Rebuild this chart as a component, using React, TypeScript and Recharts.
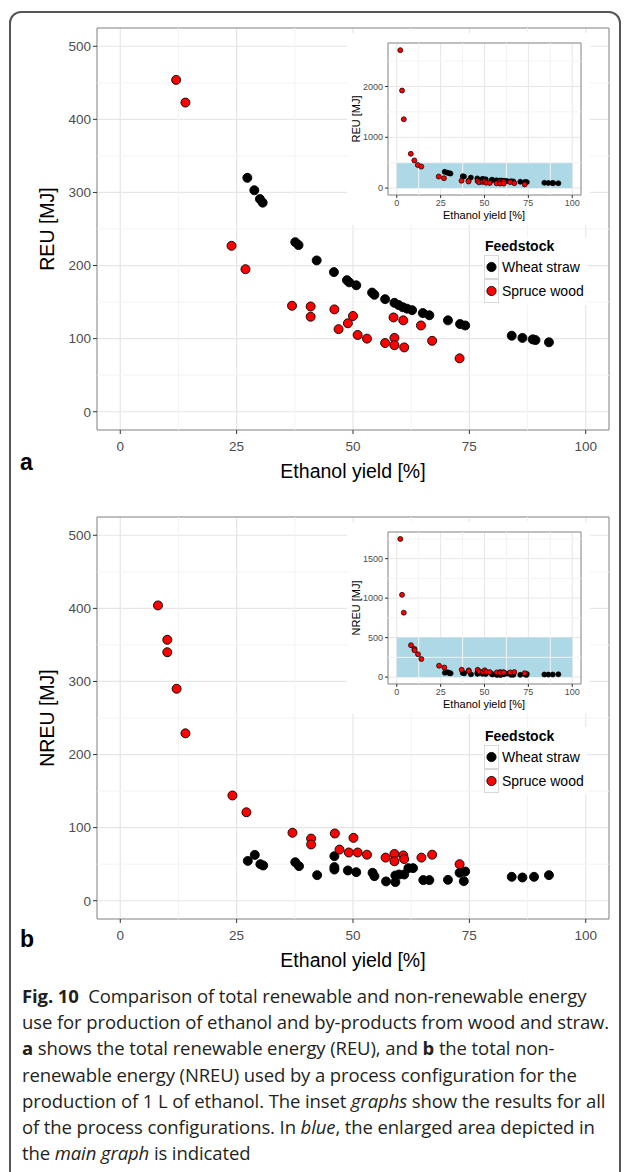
import {
  ScatterChart,
  Scatter,
  XAxis,
  YAxis,
  CartesianGrid,
  ReferenceLine,
  ReferenceArea,
} from "recharts";

// panel a: renewable energy use (REU)
const wheatYieldA = [27.3, 28.8, 30.0, 30.6, 37.6, 38.3, 42.2, 45.9, 48.7, 49.2, 50.7, 54.1, 54.6, 56.9, 58.9, 59.8, 60.7, 61.6, 62.7, 65.0, 66.4, 70.4, 73.0, 74.1, 84.1, 86.4, 88.6, 89.2, 92.1];
const wheatReu = [320, 303, 291, 286, 232, 228, 207, 191, 180, 177, 173, 163, 160, 154, 149, 146, 143, 141, 139, 135, 132, 125, 120, 118, 104, 101, 99, 98, 95];
const spruceYieldA = [2, 3, 4, 8, 10, 12, 14, 23.9, 26.9, 36.9, 40.9, 40.9, 46.0, 46.9, 48.9, 50.0, 51.0, 53.0, 56.9, 58.7, 58.9, 58.9, 60.8, 61.0, 64.6, 67.0, 72.9];
const spruceReu = [2715, 1920, 1355, 675, 545, 454, 423, 227, 195, 145, 144, 130, 140, 113, 121, 131, 105, 100, 94, 129, 101, 91, 125, 88, 118, 97, 73];

// panel b: non-renewable energy use (NREU)
const wheatYieldB = [27.4, 28.9, 30.1, 30.7, 37.6, 38.4, 42.3, 46.0, 46.0, 46.0, 48.9, 50.7, 54.2, 54.6, 57.1, 59.1, 59.1, 59.9, 61.0, 61.9, 62.9, 65.1, 66.4, 70.4, 72.9, 74.1, 73.8, 84.1, 86.4, 88.9, 92.1];
const wheatNreu = [54.5, 62.7, 50, 48.2, 52.7, 47.3, 35, 61, 46, 42.7, 41.4, 39.1, 38.2, 33.6, 26.4, 34.5, 25.5, 35.9, 35.9, 44.6, 44.6, 28.2, 28.2, 28.6, 38.2, 40, 26.8, 32.7, 31.8, 32.7, 35];
const spruceYieldB = [2, 3, 4, 8.1, 10.1, 10.1, 12.1, 14.0, 24.1, 27.1, 37.0, 41.0, 41.0, 46.1, 47.1, 49.1, 50.1, 51.0, 53.0, 57.0, 58.9, 58.9, 60.8, 61.0, 64.7, 67.0, 72.9];
const spruceNreu = [1750, 1042, 816, 404, 357, 340, 290, 229, 144, 121, 93, 85, 77, 92, 70, 66, 86, 66, 63, 59, 64, 54, 62, 57, 59, 63, 50];

const xTicks = [0, 25, 50, 75, 100];
const xMinor = [12.5, 37.5, 62.5, 87.5];
const mainYTicks = [0, 100, 200, 300, 400, 500];
const mainYMinor = [50, 150, 250, 350, 450];
const insetYTicksA = [0, 1000, 2000];
const insetYMinorA = [500, 1500, 2500];
const insetYTicksB = [0, 500, 1000, 1500];
const insetYMinorB = [250, 750, 1250, 1750];

const FONT = "'Liberation Sans', Arial, Helvetica, sans-serif";
const RED = "#ff0000";

type Pt = { x: number; y: number };
const zip = (xs: number[], ys: number[]): Pt[] => xs.map((x, i) => ({ x, y: ys[i] }));

const dot = (r: number, fill: string, sw: number) => (p: any) =>
  <circle cx={p.cx} cy={p.cy} r={r} fill={fill} stroke="#000" strokeWidth={sw} />;

function MainChart({ wheat, spruce, top, yTitle }: { wheat: Pt[]; spruce: Pt[]; top: number; yTitle: string }) {
  const inRange = (p: Pt) => p.y <= 525;
  return (
    <div style={{ position: "absolute", left: 0, top, width: 627, height: 480 }}>
      <ScatterChart width={627} height={480} margin={{ top: 28, right: 18, bottom: 20, left: 0 }}>
        <CartesianGrid stroke="#e6e6e6" strokeWidth={1.2} />
        {xMinor.map((v) => <ReferenceLine key={"x" + v} x={v} stroke="#f3f3f3" />)}
        {mainYMinor.map((v) => <ReferenceLine key={"y" + v} y={v} stroke="#f3f3f3" />)}
        <ReferenceArea x1={-5} x2={105} y1={-25} y2={525} fill="none" stroke="#8c8c8c" strokeWidth={1} />
        <XAxis type="number" dataKey="x" domain={[-5, 105]} ticks={xTicks} allowDataOverflow
          axisLine={false} tickLine={{ stroke: "#333" }} tickSize={4} tickMargin={7} height={30}
          tick={{ fontSize: 13.5, fill: "#4d4d4d", fontFamily: FONT }} />
        <YAxis type="number" dataKey="y" domain={[-25, 525]} ticks={mainYTicks} allowDataOverflow
          axisLine={false} tickLine={{ stroke: "#333" }} tickSize={4} tickMargin={2} width={97}
          tick={{ fontSize: 13.5, fill: "#4d4d4d", fontFamily: FONT }} />
        <Scatter data={wheat.filter(inRange)} shape={dot(4.5, "#000", 0.9)} isAnimationActive={false} />
        <Scatter data={spruce.filter(inRange)} shape={dot(4.5, RED, 0.9)} isAnimationActive={false} />
      </ScatterChart>
      <div style={{ position: "absolute", left: 47, top: 229, transform: "translate(-50%,-50%) rotate(-90deg)", whiteSpace: "nowrap", fontFamily: FONT, fontSize: 19.5 }}>
        {yTitle}
      </div>
      <div style={{ position: "absolute", left: 353, top: 471, transform: "translate(-50%,-50%)", whiteSpace: "nowrap", fontFamily: FONT, fontSize: 19.5 }}>
        Ethanol yield [%]
      </div>
    </div>
  );
}

function Inset({ wheat, spruce, top, yDomain, yTicks, yMinor, yTitle }: {
  wheat: Pt[]; spruce: Pt[]; top: number; yDomain: [number, number]; yTicks: number[]; yMinor: number[]; yTitle: string;
}) {
  return (
    <div style={{ position: "absolute", left: 347, top, width: 243, height: 192, background: "#fff" }}>
      <ScatterChart width={243} height={192} margin={{ top: 10, right: 9, bottom: 0, left: 0 }}>
        <CartesianGrid stroke="#e6e6e6" />
        {xMinor.map((v) => <ReferenceLine key={"x" + v} x={v} stroke="#f3f3f3" />)}
        {yMinor.map((v) => <ReferenceLine key={"y" + v} y={v} stroke="#f3f3f3" />)}
        <ReferenceArea x1={0} x2={100} y1={0} y2={500} fill="#add8e6" fillOpacity={1} stroke="none" />
        <ReferenceArea x1={-5} x2={105} y1={yDomain[0]} y2={yDomain[1]} fill="none" stroke="#8c8c8c" />
        <XAxis type="number" dataKey="x" domain={[-5, 105]} ticks={xTicks} allowDataOverflow
          axisLine={false} tickLine={{ stroke: "#333" }} tickSize={3} tickMargin={2} height={30}
          tick={{ fontSize: 9, fill: "#4d4d4d", fontFamily: FONT }} />
        <YAxis type="number" dataKey="y" domain={yDomain} ticks={yTicks} allowDataOverflow
          axisLine={false} tickLine={{ stroke: "#333" }} tickSize={3} tickMargin={2} width={41}
          tick={{ fontSize: 9, fill: "#4d4d4d", fontFamily: FONT }} />
        <Scatter data={wheat} shape={dot(2.5, "#000", 0.7)} isAnimationActive={false} />
        <Scatter data={spruce} shape={dot(2.5, RED, 0.7)} isAnimationActive={false} />
      </ScatterChart>
      <div style={{ position: "absolute", left: 9, top: 86, transform: "translate(-50%,-50%) rotate(-90deg)", whiteSpace: "nowrap", fontFamily: FONT, fontSize: 11 }}>
        {yTitle}
      </div>
      <div style={{ position: "absolute", left: 137, top: 182, transform: "translate(-50%,-50%)", whiteSpace: "nowrap", fontFamily: FONT, fontSize: 11 }}>
        Ethanol yield [%]
      </div>
    </div>
  );
}

const legendItems: [string, string][] = [["Wheat straw", "#000"], ["Spruce wood", RED]];

function FeedLegend({ top }: { top: number }) {
  return (
    <div style={{ position: "absolute", left: 483, top, width: 104, height: 68, background: "#fff", fontFamily: FONT }}>
      <div style={{ position: "absolute", left: 2, top: 1, fontWeight: "bold", fontSize: 14 }}>Feedstock</div>
      {legendItems.map(([label, c], i) => (
        <div key={label} style={{ position: "absolute", left: 1, top: 18 + 24 * i, height: 24, display: "flex", alignItems: "center", whiteSpace: "nowrap" }}>
          <svg width={15} height={24} style={{ display: "block" }}>
            <rect x={0.5} y={0.5} width={14} height={23} fill="#fff" stroke="#d9d9d9" />
            <circle cx={7.5} cy={12} r={4.6} fill={c} stroke="#000" strokeWidth={0.9} />
          </svg>
          <span style={{ marginLeft: 3, fontSize: 14 }}>{label}</span>
        </div>
      ))}
    </div>
  );
}

const CAP = "'Open Sans', 'Noto Sans', sans-serif";

export default function App() {
  const wheatA = zip(wheatYieldA, wheatReu);
  const spruceA = zip(spruceYieldA, spruceReu);
  const wheatB = zip(wheatYieldB, wheatNreu);
  const spruceB = zip(spruceYieldB, spruceNreu);
  return (
    <div style={{ position: "absolute", left: 0, top: 0, width: 627, height: 1172, overflow: "hidden", background: "#fff" }}>
      <div style={{ position: "absolute", left: 9, top: 11, width: 612, height: 1220, border: "2px solid #555", borderRadius: 12, boxSizing: "border-box" }} />
      <MainChart wheat={wheatA} spruce={spruceA} top={0} yTitle="REU [MJ]" />
      <Inset wheat={wheatA} spruce={spruceA} top={33} yDomain={[-136, 2856]} yTicks={insetYTicksA} yMinor={insetYMinorA} yTitle="REU [MJ]" />
      <FeedLegend top={237} />
      <div style={{ position: "absolute", left: 20, top: 449, fontFamily: FONT, fontWeight: "bold", fontSize: 23 }}>a</div>

      <MainChart wheat={wheatB} spruce={spruceB} top={489} yTitle="NREU [MJ]" />
      <Inset wheat={wheatB} spruce={spruceB} top={522} yDomain={[-87.5, 1837.5]} yTicks={insetYTicksB} yMinor={insetYMinorB} yTitle="NREU [MJ]" />
      <FeedLegend top={727} />
      <div style={{ position: "absolute", left: 20, top: 926, fontFamily: FONT, fontWeight: "bold", fontSize: 23 }}>b</div>

      <div style={{ position: "absolute", left: 22, top: 983, fontFamily: CAP, fontSize: 18.5, lineHeight: "26.2px", letterSpacing: -0.1, color: "#231f20", whiteSpace: "nowrap" }}>
        <div><b>Fig. 10</b>&nbsp; Comparison of total renewable and non-renewable energy</div>
        <div>use for production of ethanol and by-products from wood and straw.</div>
        <div><b>a</b> shows the total renewable energy (REU), and <b>b</b> the total non-</div>
        <div>renewable energy (NREU) used by a process configuration for the</div>
        <div>production of 1 L of ethanol. The inset <i>graphs</i> show the results for all</div>
        <div>of the process configurations. In <i>blue</i>, the enlarged area depicted in</div>
        <div>the <i>main graph</i> is indicated</div>
      </div>
    </div>
  );
}
